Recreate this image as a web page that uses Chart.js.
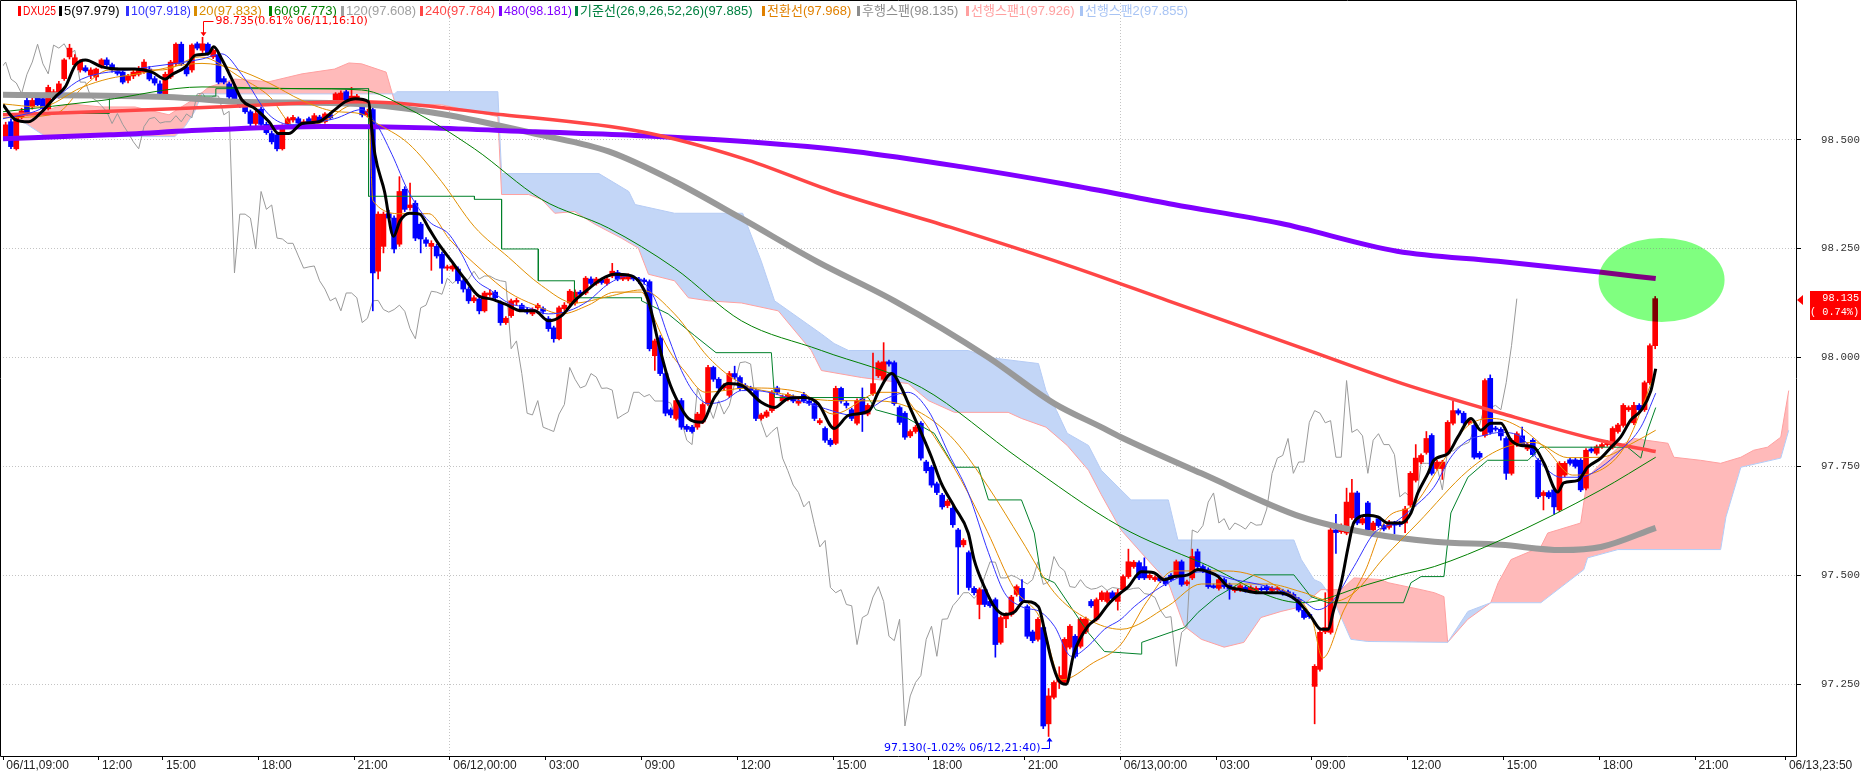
<!DOCTYPE html>
<html>
<head>
<meta charset="utf-8">
<script src="https://cdn.jsdelivr.net/npm/chart.js@4.4.1/dist/chart.umd.min.js"></script>
<style>
  html, body { margin: 0; padding: 0; background: #fff; }
  #wrap { width: 1863px; height: 774px; }
</style>
</head>
<body>
<div id="wrap"><canvas id="chart" width="1863" height="774"></canvas></div>
<script>
// x axis: bar index (10 minute bars), tick labels at these indices
const tickIndex = [0, 18, 30, 48, 66, 84, 102, 120, 138, 156, 174, 192, 210, 228, 246, 264, 282, 300, 318, 335];
const tickLabels = ['06/11,09:00', '12:00', '15:00', '18:00', '21:00', '06/12,00:00', '03:00', '09:00', '12:00', '15:00',
  '18:00', '21:00', '06/13,00:00', '03:00', '09:00', '12:00', '15:00', '18:00', '21:00', '06/13,23:50'];
const dayBreaks = [84, 210];
const yTicks = [97.25, 97.5, 97.75, 98.0, 98.25, 98.5];

// candles: [open, high, low, close]
const ohlc = [
  [98.507,98.540,98.500,98.534],[98.541,98.548,98.479,98.484],[98.479,98.560,98.476,98.557],[98.552,98.572,98.548,98.566],
  [98.590,98.596,98.556,98.560],[98.575,98.595,98.570,98.590],[98.595,98.600,98.578,98.580],[98.594,98.600,98.566,98.571],
  [98.571,98.625,98.568,98.620],[98.600,98.615,98.595,98.610],[98.600,98.634,98.595,98.628],[98.640,98.686,98.636,98.683],
  [98.690,98.719,98.685,98.710],[98.672,98.695,98.668,98.688],[98.660,98.684,98.655,98.680],[98.665,98.670,98.655,98.658],
  [98.648,98.665,98.640,98.660],[98.644,98.664,98.636,98.662],[98.668,98.686,98.664,98.683],[98.683,98.688,98.668,98.672],
  [98.672,98.676,98.655,98.660],[98.658,98.664,98.648,98.652],[98.655,98.660,98.628,98.632],[98.636,98.650,98.630,98.646],
  [98.646,98.660,98.640,98.655],[98.650,98.668,98.646,98.662],[98.655,98.684,98.652,98.678],[98.662,98.668,98.635,98.639],
  [98.640,98.645,98.625,98.630],[98.628,98.635,98.600,98.606],[98.603,98.655,98.598,98.650],[98.644,98.682,98.640,98.678],
  [98.674,98.722,98.670,98.719],[98.719,98.724,98.670,98.674],[98.667,98.672,98.646,98.651],[98.660,98.720,98.655,98.717],
  [98.720,98.724,98.706,98.710],[98.705,98.735,98.700,98.720],[98.719,98.722,98.694,98.697],[98.690,98.708,98.686,98.705],
  [98.694,98.698,98.628,98.632],[98.640,98.645,98.628,98.632],[98.628,98.632,98.594,98.598],[98.620,98.624,98.586,98.590],
  [98.590,98.594,98.574,98.578],[98.575,98.580,98.560,98.564],[98.564,98.568,98.532,98.537],[98.537,98.565,98.532,98.560],
  [98.570,98.575,98.530,98.535],[98.535,98.540,98.512,98.516],[98.514,98.520,98.490,98.495],[98.511,98.515,98.474,98.479],
  [98.479,98.534,98.476,98.530],[98.536,98.552,98.532,98.548],[98.545,98.556,98.540,98.551],[98.548,98.552,98.534,98.538],
  [98.535,98.546,98.530,98.541],[98.548,98.552,98.538,98.541],[98.541,98.560,98.538,98.555],[98.552,98.556,98.538,98.541],
  [98.541,98.562,98.538,98.559],[98.557,98.562,98.546,98.550],[98.587,98.608,98.582,98.605],[98.590,98.612,98.586,98.607],
  [98.610,98.614,98.583,98.587],[98.592,98.620,98.588,98.600],[98.587,98.604,98.582,98.600],[98.580,98.592,98.552,98.557],
  [98.557,98.570,98.552,98.565],[98.569,98.575,98.107,98.194],[98.198,98.334,98.180,98.329],[98.255,98.334,98.240,98.329],
  [98.330,98.338,98.312,98.320],[98.320,98.325,98.240,98.249],[98.260,98.415,98.255,98.381],[98.386,98.392,98.335,98.340],
  [98.344,98.400,98.338,98.350],[98.354,98.360,98.268,98.274],[98.306,98.310,98.240,98.272],[98.270,98.275,98.255,98.262],
  [98.255,98.268,98.200,98.262],[98.255,98.260,98.228,98.233],[98.237,98.242,98.170,98.205],[98.205,98.212,98.200,98.208],
  [98.203,98.214,98.198,98.210],[98.203,98.208,98.170,98.176],[98.176,98.180,98.150,98.157],[98.157,98.162,98.124,98.130],
  [98.130,98.142,98.126,98.137],[98.134,98.138,98.100,98.107],[98.107,98.152,98.104,98.148],[98.144,98.156,98.140,98.148],
  [98.150,98.154,98.132,98.137],[98.125,98.130,98.074,98.080],[98.080,98.094,98.076,98.090],[98.096,98.134,98.092,98.130],
  [98.127,98.136,98.120,98.131],[98.120,98.124,98.106,98.110],[98.110,98.114,98.100,98.104],[98.100,98.114,98.096,98.110],
  [98.114,98.124,98.110,98.120],[98.112,98.116,98.100,98.106],[98.089,98.094,98.060,98.066],[98.068,98.072,98.035,98.043],
  [98.043,98.118,98.040,98.114],[98.112,98.126,98.108,98.120],[98.125,98.156,98.120,98.152],[98.125,98.155,98.120,98.150],
  [98.150,98.154,98.140,98.145],[98.148,98.186,98.144,98.182],[98.180,98.185,98.166,98.170],[98.170,98.184,98.166,98.180],
  [98.178,98.182,98.168,98.172],[98.170,98.184,98.166,98.180],[98.187,98.216,98.183,98.198],[98.195,98.200,98.176,98.180],
  [98.180,98.190,98.176,98.187],[98.180,98.192,98.176,98.187],[98.184,98.188,98.176,98.180],[98.180,98.184,98.170,98.176],
  [98.178,98.182,98.168,98.174],[98.174,98.178,98.015,98.020],[98.004,98.042,97.970,98.038],[98.045,98.050,97.958,97.963],
  [97.963,97.968,97.866,97.872],[97.880,97.884,97.862,97.868],[97.860,97.906,97.856,97.901],[97.901,97.906,97.835,97.840],
  [97.842,97.846,97.830,97.835],[97.840,97.844,97.826,97.830],[97.840,97.874,97.835,97.870],[97.852,97.896,97.848,97.892],
  [97.894,97.982,97.890,97.977],[97.977,97.980,97.945,97.950],[97.950,97.954,97.925,97.930],[97.930,97.940,97.926,97.935],
  [97.913,97.968,97.908,97.963],[97.963,97.980,97.950,97.955],[97.954,97.958,97.924,97.929],[97.935,97.940,97.926,97.930],
  [97.930,97.934,97.920,97.925],[97.924,97.928,97.855,97.860],[97.860,97.872,97.856,97.868],[97.865,97.879,97.862,97.875],
  [97.878,97.924,97.874,97.920],[97.930,97.934,97.915,97.920],[97.900,97.914,97.896,97.910],[97.905,97.919,97.900,97.915],
  [97.910,97.914,97.896,97.900],[97.895,97.904,97.890,97.900],[97.915,97.920,97.896,97.900],[97.900,97.904,97.890,97.895],
  [97.894,97.898,97.855,97.860],[97.850,97.860,97.846,97.855],[97.837,97.841,97.805,97.810],[97.810,97.814,97.796,97.800],
  [97.803,97.934,97.800,97.929],[97.929,97.932,97.895,97.900],[97.895,97.900,97.884,97.890],[97.880,97.884,97.855,97.860],
  [97.849,97.905,97.845,97.901],[97.905,97.930,97.830,97.870],[97.870,97.894,97.866,97.890],[97.917,98.010,97.913,97.940],
  [97.958,97.992,97.954,97.988],[97.950,98.034,97.946,97.990],[97.990,97.994,97.980,97.985],[97.988,97.992,97.890,97.894],
  [97.885,97.889,97.846,97.851],[97.872,97.876,97.812,97.817],[97.820,97.834,97.816,97.830],[97.830,97.844,97.826,97.840],
  [97.849,97.853,97.764,97.769],[97.760,97.764,97.735,97.740],[97.748,97.752,97.702,97.707],[97.710,97.714,97.685,97.690],
  [97.684,97.688,97.652,97.657],[97.660,97.674,97.655,97.670],[97.654,97.658,97.610,97.616],[97.604,97.608,97.456,97.565],
  [97.570,97.584,97.565,97.580],[97.552,97.556,97.466,97.472],[97.470,97.474,97.455,97.460],[97.433,97.471,97.400,97.467],
  [97.467,97.471,97.428,97.433],[97.440,97.444,97.426,97.430],[97.444,97.448,97.312,97.341],[97.346,97.407,97.342,97.403],
  [97.400,97.414,97.380,97.410],[97.410,97.454,97.406,97.450],[97.456,97.478,97.452,97.474],[97.470,97.490,97.436,97.440],
  [97.428,97.432,97.355,97.360],[97.370,97.374,97.345,97.350],[97.353,97.403,97.349,97.399],[97.380,97.384,97.148,97.154],
  [97.159,97.240,97.130,97.223],[97.220,97.258,97.216,97.254],[97.255,97.290,97.240,97.270],[97.254,97.357,97.250,97.353],
  [97.335,97.387,97.331,97.383],[97.360,97.364,97.310,97.314],[97.337,97.403,97.333,97.399],[97.370,97.404,97.366,97.400],
  [97.440,97.444,97.426,97.430],[97.399,97.448,97.395,97.444],[97.444,97.464,97.440,97.460],[97.440,97.464,97.436,97.460],
  [97.460,97.464,97.443,97.447],[97.440,97.468,97.420,97.460],[97.467,97.501,97.463,97.497],[97.497,97.560,97.493,97.531],
  [97.520,97.534,97.516,97.530],[97.529,97.533,97.490,97.494],[97.520,97.540,97.490,97.494],[97.494,97.504,97.490,97.500],
  [97.490,97.499,97.486,97.495],[97.494,97.498,97.483,97.487],[97.490,97.494,97.476,97.480],[97.500,97.504,97.486,97.490],
  [97.497,97.535,97.493,97.531],[97.531,97.535,97.475,97.479],[97.480,97.489,97.476,97.485],[97.494,97.560,97.490,97.543],
  [97.554,97.560,97.516,97.520],[97.520,97.524,97.506,97.510],[97.513,97.517,97.470,97.474],[97.476,97.480,97.470,97.472],
  [97.470,97.494,97.466,97.490],[97.490,97.494,97.470,97.474],[97.478,97.482,97.445,97.468],[97.465,97.474,97.461,97.470],
  [97.467,97.480,97.463,97.476],[97.472,97.476,97.461,97.465],[97.465,97.476,97.461,97.472],[97.465,97.474,97.461,97.470],
  [97.470,97.474,97.464,97.467],[97.474,97.478,97.463,97.467],[97.465,97.474,97.461,97.470],[97.467,97.474,97.463,97.471],
  [97.464,97.468,97.454,97.458],[97.462,97.466,97.452,97.456],[97.456,97.460,97.445,97.449],[97.445,97.449,97.416,97.420],
  [97.420,97.424,97.399,97.403],[97.410,97.414,97.401,97.405],[97.245,97.295,97.159,97.291],[97.284,97.373,97.280,97.369],
  [97.370,97.460,97.366,97.380],[97.369,97.608,97.365,97.604],[97.604,97.640,97.550,97.598],[97.600,97.618,97.596,97.614],
  [97.597,97.700,97.593,97.668],[97.632,97.720,97.628,97.689],[97.689,97.693,97.616,97.620],[97.620,97.634,97.616,97.630],
  [97.666,97.670,97.600,97.604],[97.604,97.624,97.600,97.620],[97.630,97.634,97.610,97.614],[97.614,97.618,97.602,97.606],
  [97.610,97.626,97.606,97.622],[97.620,97.624,97.595,97.615],[97.620,97.624,97.612,97.616],[97.620,97.658,97.598,97.652],
  [97.661,97.738,97.657,97.734],[97.718,97.800,97.714,97.769],[97.760,97.779,97.756,97.775],[97.782,97.830,97.778,97.814],
  [97.821,97.825,97.730,97.734],[97.745,97.764,97.741,97.760],[97.745,97.764,97.720,97.760],[97.780,97.855,97.776,97.851],
  [97.849,97.900,97.845,97.878],[97.878,97.882,97.868,97.872],[97.872,97.876,97.846,97.850],[97.850,97.859,97.846,97.855],
  [97.844,97.848,97.767,97.771],[97.780,97.784,97.767,97.771],[97.821,97.951,97.817,97.947],[97.952,97.960,97.824,97.828],
  [97.838,97.842,97.831,97.835],[97.835,97.839,97.810,97.820],[97.814,97.818,97.720,97.734],[97.734,97.814,97.730,97.810],
  [97.800,97.829,97.796,97.825],[97.820,97.840,97.796,97.800],[97.790,97.804,97.786,97.800],[97.810,97.814,97.773,97.777],
  [97.764,97.768,97.676,97.680],[97.683,97.694,97.650,97.690],[97.690,97.694,97.676,97.680],[97.696,97.700,97.640,97.657],
  [97.650,97.761,97.646,97.757],[97.730,97.761,97.726,97.757],[97.765,97.769,97.753,97.757],[97.765,97.769,97.746,97.750],
  [97.764,97.768,97.692,97.696],[97.700,97.791,97.696,97.787],[97.790,97.794,97.781,97.785],[97.780,97.799,97.776,97.795],
  [97.795,97.804,97.791,97.800],[97.800,97.809,97.796,97.805],[97.794,97.841,97.790,97.837],[97.830,97.849,97.826,97.845],
  [97.844,97.894,97.840,97.890],[97.880,97.889,97.876,97.885],[97.850,97.897,97.846,97.890],[97.890,97.894,97.876,97.880],
  [97.880,97.946,97.876,97.942],[97.942,98.031,97.938,98.027],[98.027,98.140,98.020,98.135]
];

// moving averages and ichimoku lines: [bar position, value]
const ma5 = [[0,98.580],[2.3,98.546],[4.8,98.541],[7.3,98.564],[9.8,98.598],[11.7,98.621],[13.6,98.671],[15.5,98.683],[18.6,98.667],
  [21.8,98.662],[24.8,98.662],[28,98.655],[30.5,98.639],[31.7,98.649],[34.3,98.667],[36.2,98.694],[38.6,98.697],[39.6,98.713],
  [41.1,98.685],[43,98.639],[44.9,98.591],[47.4,98.571],[50,98.541],[51.8,98.514],[53.7,98.514],[56.2,98.537],[59.3,98.541],
  [62.4,98.569],[64.3,98.587],[66.2,98.594],[68.7,98.587],[69.3,98.525],[69.9,98.466],[71.7,98.381],[73.4,98.278],[74.6,98.313],
  [76.4,98.331],[78.3,98.329],[80,98.297],[81.9,98.260],[84.3,98.221],[86.8,98.180],[89.4,98.141],[91.8,98.134],[94.3,98.123],
  [97.5,98.107],[99.9,98.107],[102.5,98.084],[105,98.096],[107.4,98.130],[110,98.157],[112.5,98.180],[114.9,98.191],[117.6,98.189],
  [119.4,98.176],[121.3,98.130],[123.2,98.032],[125.1,97.947],[127,97.894],[128.8,97.860],[131.3,97.851],[133.7,97.908],
  [136.3,97.940],[138.8,97.936],[142.5,97.897],[145,97.885],[147.6,97.906],[150.6,97.908],[153.2,97.894],[156.2,97.837],
  [158.9,97.867],[162.8,97.878],[164.5,97.920],[167,97.963],[168.8,97.931],[170.7,97.878],[172.6,97.826],[174.5,97.771],
  [176.3,97.712],[178.8,97.657],[181.4,97.597],[182.5,97.536],[184.4,97.474],[186.3,97.428],[188.2,97.410],[190,97.415],
  [191.9,97.440],[194.6,97.428],[195.7,97.376],[197,97.307],[198.3,97.261],[199.8,97.250],[201.3,97.323],[203.9,97.383],
  [205.8,97.403],[207.7,97.433],[210.1,97.460],[211.5,97.474],[213.9,97.508],[216.3,97.506],[218.2,97.490],[220.1,97.497],
  [222.7,97.501],[224.6,97.513],[226.5,97.508],[228.4,97.497],[230.2,97.474],[232.7,97.467],[235.9,97.460],[239.6,97.460],
  [242.1,97.451],[243.9,97.433],[245.8,97.405],[247.7,97.376],[249,97.376],[250.1,97.421],[251.5,97.483],[252.8,97.565],
  [253.9,97.622],[256.5,97.638],[258.4,97.634],[260.3,97.620],[262.7,97.620],[264.6,97.643],[265.9,97.689],[267.8,97.734],
  [268.9,97.764],[271.6,97.780],[273.4,97.817],[275.9,97.860],[277.7,97.833],[279.6,97.849],[281.5,97.849],[283.4,97.810],
  [285.3,97.798],[287.7,97.794],[289.6,97.757],[292.2,97.691],[293.3,97.712],[296,97.718],[297.8,97.748],[300.3,97.769],
  [302.2,97.794],[304,97.817],[305.9,97.856],[307.8,97.878],[309.7,97.924],[310.6,97.974]];
const ma10 = [[0,98.548],[7,98.570],[14.8,98.639],[24.8,98.662],[37.4,98.685],[41.1,98.697],[44.9,98.649],[50,98.557],
  [54.3,98.534],[62.3,98.548],[67.4,98.569],[69.9,98.541],[73.1,98.466],[76.2,98.381],[80,98.313],[83.8,98.283],[86.2,98.237],
  [88.6,98.182],[91.8,98.153],[95,98.125],[98.8,98.114],[102.5,98.100],[106.3,98.107],[110,98.130],[113.8,98.169],[117.6,98.187],
  [120,98.176],[122.4,98.137],[125.1,98.045],[127.5,97.970],[130,97.917],[132.6,97.894],[135.6,97.901],[138.8,97.924],
  [141.2,97.924],[147.6,97.908],[153.8,97.885],[160,97.867],[166.4,97.908],[170.1,97.920],[173.9,97.878],[177.7,97.780],
  [181.4,97.689],[185.2,97.552],[188.2,97.460],[191.4,97.428],[195.1,97.415],[197.6,97.383],[200.8,97.314],[203.9,97.337],
  [207,97.376],[210.1,97.399],[212.6,97.428],[219,97.483],[225.2,97.508],[231.4,97.490],[237.7,97.474],[244,97.444],
  [247.1,97.421],[250.1,97.444],[253.9,97.520],[257.7,97.597],[261.4,97.620],[265.2,97.657],[268.9,97.702],[272.1,97.771],
  [275.3,97.810],[278.3,97.821],[281.5,97.828],[285.3,97.817],[289,97.757],[292.8,97.725],[296.5,97.725],[300.3,97.748],
  [304,97.787],[307.8,97.840],[310.6,97.918]];
const ma20 = [[0,98.582],[7,98.575],[14.8,98.620],[19.9,98.640],[24.8,98.650],[37.4,98.675],[43.6,98.662],[50,98.630],
  [56.2,98.590],[62.3,98.565],[67.4,98.559],[69.9,98.540],[76.2,98.491],[82.4,98.404],[88.6,98.300],[95,98.230],[101.2,98.165],
  [107.4,98.125],[113.8,98.140],[120,98.155],[126.2,98.100],[132.6,98.000],[138.8,97.940],[146.3,97.917],[156.2,97.901],
  [165,97.900],[172.6,97.872],[178.8,97.810],[185.2,97.702],[191.4,97.581],[197.6,97.460],[203.9,97.399],[210.1,97.376],
  [219,97.430],[225.2,97.480],[237.7,97.480],[244,97.462],[250.1,97.440],[253.9,97.460],[259.5,97.540],[265.9,97.620],
  [275.3,97.740],[281.5,97.790],[287.7,97.805],[294.1,97.770],[300.3,97.771],[306.5,97.805],[310.6,97.833]];
const ma60 = [[0,98.564],[18.6,98.590],[37.4,98.621],[56.2,98.617],[67.4,98.614],[76.2,98.571],[88.6,98.479],[101.2,98.363],
  [113.8,98.297],[126.2,98.205],[138.8,98.084],[153.8,98.016],[172.6,97.931],[191.4,97.764],[210.1,97.611],[225.2,97.529],
  [244,97.437],[256.5,97.479],[262.7,97.501],[269,97.520],[281.5,97.581],[300.3,97.696],[310.6,97.771]];
const ma120 = [[0,98.603],[31,98.598],[44,98.587],[67,98.582],[82.4,98.559],[101,98.511],[113.8,98.473],[126.2,98.404],
  [138.8,98.319],[153,98.220],[167.5,98.130],[185.2,98.000],[197.6,97.894],[206.4,97.840],[210.1,97.817],[225.2,97.734],
  [244,97.634],[256.5,97.597],[269,97.577],[281.5,97.570],[292.8,97.558],[300.3,97.565],[310.6,97.609]];
const ma240 = [[0,98.557],[20,98.565],[40,98.575],[67,98.587],[94,98.557],[120,98.518],[139,98.457],[156,98.381],[178,98.299],
  [200,98.212],[219,98.130],[244,98.022],[263,97.940],[281.5,97.872],[300,97.810],[310.6,97.784]];
const ma480 = [[0,98.502],[20,98.511],[40,98.523],[60,98.530],[80,98.527],[100,98.518],[120,98.509],[140,98.495],[160,98.473],
  [180,98.438],[200,98.397],[220,98.351],[240,98.308],[262,98.244],[281,98.221],[300,98.196],[310.6,98.181]];
const kijun = [[0,98.560],[20,98.560],[20,98.600],[40,98.600],[40,98.617],[68.7,98.617],[68.7,98.370],[88.6,98.370],[88.6,98.363],
  [93.7,98.363],[93.7,98.249],[100.6,98.249],[100.6,98.176],[107.4,98.176],[107.4,98.137],[120,98.137],[120,98.130],[125,98.100],
  [130,98.050],[134,98.011],[144.4,98.011],[145,97.908],[162.6,97.908],[164,97.880],[170,97.860],[175,97.826],[178.8,97.748],
  [183.3,97.748],[185.2,97.673],[191.4,97.673],[193.8,97.597],[195.1,97.497],[197.6,97.483],[203.9,97.369],[207,97.325],
  [213.9,97.319],[214,97.346],[222,97.380],[224.6,97.415],[228,97.450],[235.1,97.501],[242.6,97.501],[245.8,97.451],
  [249,97.437],[263.2,97.437],[264.6,97.483],[266.5,97.497],[270.8,97.497],[272.1,97.643],[275.3,97.725],[279,97.764],
  [286.6,97.764],[289,97.794],[305.3,97.794],[307.8,97.769],[309,97.830],[310.6,97.885]];
const tenkan = [[0,98.550],[10,98.560],[15,98.620],[20,98.660],[30,98.660],[37,98.690],[45,98.640],[50,98.600],[55,98.530],
  [60,98.540],[66,98.580],[68.7,98.580],[69.5,98.360],[75,98.330],[80,98.330],[84,98.270],[90,98.200],[95,98.150],[100,98.120],
  [105,98.100],[110,98.120],[115,98.150],[120,98.150],[122,98.100],[125,98.020],[128,97.970],[132,97.920],[140,97.930],
  [150,97.920],[156,97.870],[165,97.920],[168,97.920],[172,97.870],[176,97.800],[180,97.720],[185,97.600],[190,97.470],
  [195,97.400],[199,97.260],[205,97.300],[210,97.340],[215,97.440],[220,97.510],[230,97.510],[240,97.470],[246,97.400],
  [248,97.310],[252,97.420],[256,97.510],[260,97.630],[265,97.660],[270,97.750],[275,97.840],[280,97.860],[285,97.840],
  [290,97.790],[295,97.730],[300,97.740],[305,97.800],[310.6,97.968]];
const spanA = [[2,98.555],[3.6,98.553],[12.4,98.582],[18.6,98.575],[24.8,98.575],[31.2,98.557],[36,98.594],[38.7,98.621],
  [43.6,98.639],[50,98.633],[56.2,98.651],[62.3,98.662],[65,98.676],[67.4,98.674],[72,98.655],[73.6,98.587],[74,98.582],
  [82.4,98.580],[88.6,98.564],[93,98.553],[93.7,98.374],[98.8,98.374],[101.2,98.363],[103.7,98.331],[107.4,98.335],
  [111.2,98.306],[116.2,98.274],[119.4,98.251],[121.3,98.191],[126.2,98.176],[128.8,98.137],[132.6,98.130],[138.8,98.125],
  [145.7,98.107],[151.9,98.016],[153.8,97.970],[161.3,97.954],[170.1,97.940],[173.9,97.901],[178.8,97.874],[188.9,97.874],
  [191.4,97.860],[196,97.840],[200,97.798],[204,97.741],[206.4,97.685],[210.1,97.604],[213.9,97.552],[219,97.483],[222,97.383],
  [225.2,97.353],[229.5,97.335],[233.2,97.346],[236.4,97.403],[240.2,97.417],[244,97.428],[247.7,97.467],[251.5,97.467],
  [253.9,97.494],[259,97.490],[260.3,97.483],[266.5,97.467],[269,97.460],[270.8,97.451],[271.5,97.346],[275.3,97.399],
  [279.6,97.437],[281,97.483],[283.4,97.536],[289,97.565],[290.3,97.597],[296.5,97.620],[297.8,97.725],[300.3,97.757],
  [304,97.798],[306.5,97.814],[312.9,97.803],[314,97.771],[319,97.764],[322.8,97.757],[326.6,97.771],[329,97.787],
  [331.6,97.794],[334.1,97.817],[335.6,97.924]];
const spanB = [[2,98.555],[8,98.507],[32.3,98.507],[34.2,98.530],[36,98.564],[37.4,98.605],[73.6,98.605],[74,98.610],[93,98.610],
  [93.7,98.422],[112,98.422],[117.6,98.381],[118.8,98.351],[126.2,98.331],[139,98.331],[142.5,98.221],[145,98.130],
  [153.8,98.054],[156.2,98.032],[158.9,98.016],[181.4,98.016],[185.2,98.000],[194.6,97.986],[196,97.924],[198,97.878],
  [200,97.826],[204,97.798],[206.4,97.741],[210.1,97.696],[212,97.673],[219,97.673],[220.8,97.581],[242.6,97.581],
  [244,97.536],[246.4,97.490],[247.7,97.483],[250,97.444],[253.3,97.353],[256.5,97.348],[271.5,97.346],[275.3,97.417],
  [279.6,97.437],[289,97.437],[297.1,97.513],[297.8,97.540],[303.5,97.559],[322.8,97.559],[323.8,97.634],[326.6,97.748],
  [334.1,97.769],[335.6,97.833]];
const laggingShift = 26;

const legendLabels = ['DXU25', '5(97.979)', '10(97.918)', '20(97.833)', '60(97.773)', '120(97.608)', '240(97.784)', '480(98.181)',
  '기준선(26,9,26,52,26)(97.885)', '전환선(97.968)', '후행스팬(98.135)', '선행스팬1(97.926)', '선행스팬2(97.855)'];
const legendColors = ['#ff0000', '#000000', '#3333ff', '#d98c00', '#008000', '#a0a0a0', '#ff4646', '#8000ff',
  '#008040', '#e08000', '#8c8c8c', '#ffa0a0', '#a8c4f4'];
const legendX = [18, 59, 126, 194, 269, 341, 420, 499, 575, 762, 857, 966, 1080];
const legendEnd = 1188;

const highIndex = 37;
const highNote = '98.735(0.61% 06/11,16:10)';
const lowIndex = 196;
const lowValue = 97.130;
const lowNote = '97.130(-1.02% 06/12,21:40)';
const lastPrice = '98.135';
const lastChange = '( 0.74%)';
const focusPoint = [311.7, 98.178];

// where the outer y ticks sit on the canvas (px) and the bar pitch (px)
const Y_TOP_TICK = 138;
const Y_BOTTOM_TICK = 684;
const BAR_PITCH = 5.327;

const pts = (arr) => arr.map(([x, y]) => ({ x, y }));
const UP = '#ff0000';
const DOWN = '#0000ff';
const candleColors = ohlc.map((c) => (c[3] >= c[0] ? UP : DOWN));

function lineSet(label, data, color, width, order, extra) {
  return Object.assign({
    type: 'line',
    label,
    data: pts(data),
    borderColor: color,
    backgroundColor: color,
    borderWidth: width,
    pointRadius: 0,
    fill: false,
    tension: 0,
    order,
  }, extra || {});
}

const smooth = { cubicInterpolationMode: 'monotone' };

const datasets = [
  lineSet('선행스팬1', spanA, '#ffa0a0', 1, 30, { fill: { target: 1, above: '#ffbaba', below: '#c3d6f7' } }),
  lineSet('선행스팬2', spanB, '#b4ccf6', 1, 29),
  {
    type: 'line',
    label: '후행스팬',
    data: ohlc.map((c, i) => ({ x: i - laggingShift + 0.5, y: c[3] })),
    borderColor: '#9a9a9a',
    borderWidth: 1,
    pointRadius: 0,
    fill: false,
    order: 28,
  },
  {
    type: 'bar',
    label: 'wick',
    data: ohlc.map((c, i) => ({ x: i + 0.5, y: [c[2], c[1]] })),
    backgroundColor: candleColors,
    barThickness: 1,
    grouped: false,
    order: 21,
  },
  {
    type: 'bar',
    label: 'DXU25',
    data: ohlc.map((c, i) => ({ x: i + 0.5, y: [Math.min(c[0], c[3]), Math.max(c[0], c[3])] })),
    backgroundColor: candleColors,
    barThickness: 5,
    minBarLength: 1,
    grouped: false,
    order: 20,
  },
  lineSet('기준선', kijun, '#00802a', 1, 12),
  lineSet('전환선', tenkan, '#e68a00', 1, 11, smooth),
  lineSet('120', ma120, '#999999', 6, 10, smooth),
  lineSet('480', ma480, '#8000ff', 5, 9, smooth),
  lineSet('240', ma240, '#ff4646', 3.5, 8, smooth),
  lineSet('60', ma60, '#008000', 1, 7, smooth),
  lineSet('20', ma20, '#e09000', 1, 6, smooth),
  lineSet('10', ma10, '#3333ff', 1, 5, smooth),
  lineSet('5', ma5, '#000000', 3, 1, smooth),
];

const overlay = {
  id: 'overlay',
  afterDatasetsDraw(chart) {
    const { ctx, scales: { x, y } } = chart;
    const cx = x.getPixelForValue(focusPoint[0]);
    const cy = y.getPixelForValue(focusPoint[1]);
    ctx.save();
    ctx.globalCompositeOperation = 'darken';
    ctx.fillStyle = '#80ff80';
    ctx.beginPath();
    ctx.ellipse(cx, cy, 63, 42, 0, 0, Math.PI * 2);
    ctx.fill();
    ctx.restore();
  },
  afterDraw(chart) {
    const { ctx, chartArea: a, scales: { x, y } } = chart;
    ctx.save();

    // frame
    ctx.strokeStyle = '#000';
    ctx.lineWidth = 1;
    ctx.beginPath();
    ctx.moveTo(0.5, a.bottom + 0.5);
    ctx.lineTo(0.5, 0.5);
    ctx.lineTo(a.right + 0.5, 0.5);
    ctx.lineTo(a.right + 0.5, a.bottom + 0.5);
    ctx.lineTo(0.5, a.bottom + 0.5);
    ctx.stroke();

    // legend, each entry squeezed into its slot
    ctx.font = "13px 'Liberation Sans', 'Noto Sans CJK KR'";
    ctx.textBaseline = 'middle';
    ctx.textAlign = 'left';
    legendLabels.forEach((text, i) => {
      const left = legendX[i] + 5;
      const right = (i + 1 < legendX.length ? legendX[i + 1] - 3 : legendEnd);
      ctx.fillStyle = legendColors[i];
      ctx.fillRect(legendX[i], 6, 3, 10);
      ctx.fillText(text, left, 11, right - left);
    });

    // high note
    ctx.font = "11px 'DejaVu Sans'";
    const hx = Math.round(x.getPixelForValue(highIndex + 0.5)) + 0.5;
    const hy = y.getPixelForValue(ohlc[highIndex][1]);
    ctx.strokeStyle = ctx.fillStyle = '#ff0000';
    ctx.beginPath();
    ctx.moveTo(hx + 10, 21.5);
    ctx.lineTo(hx, 21.5);
    ctx.lineTo(hx, hy - 4);
    ctx.stroke();
    ctx.beginPath();
    ctx.moveTo(hx - 3, hy - 5);
    ctx.lineTo(hx + 3, hy - 5);
    ctx.lineTo(hx, hy - 1);
    ctx.closePath();
    ctx.fill();
    ctx.fillText(highNote, hx + 12, 21);

    // low note
    const lx = Math.round(x.getPixelForValue(lowIndex + 0.5)) + 0.5;
    const ly = y.getPixelForValue(lowValue);
    ctx.strokeStyle = ctx.fillStyle = '#0000ff';
    ctx.beginPath();
    ctx.moveTo(lx, ly + 4);
    ctx.lineTo(lx, 748.5);
    ctx.lineTo(lx - 8, 748.5);
    ctx.stroke();
    ctx.beginPath();
    ctx.moveTo(lx - 3, ly + 5);
    ctx.lineTo(lx + 3, ly + 5);
    ctx.lineTo(lx, ly + 1);
    ctx.closePath();
    ctx.fill();
    ctx.textAlign = 'right';
    ctx.fillText(lowNote, lx - 9, 748);

    // last price box
    const py = Math.round(y.getPixelForValue(ohlc[ohlc.length - 1][3]));
    ctx.fillStyle = '#ff0000';
    ctx.beginPath();
    ctx.moveTo(a.right + 1, py + 1);
    ctx.lineTo(a.right + 7, py - 4);
    ctx.lineTo(a.right + 7, py + 6);
    ctx.closePath();
    ctx.fill();
    ctx.fillRect(1810, py - 8, 51, 29);
    ctx.fillStyle = '#ffffff';
    ctx.font = "10.2px 'Liberation Mono'";
    ctx.textAlign = 'right';
    ctx.fillText(lastPrice, 1859, py - 1);
    ctx.fillText(lastChange, 1859, py + 13);
    ctx.restore();
  },
};

const chart = new Chart(document.getElementById('chart'), {
  type: 'bar',
  data: { datasets },
  options: {
    responsive: false,
    animation: false,
    events: [],
    layout: { padding: { top: 1, left: 1, right: 0, bottom: 0 } },
    plugins: {
      legend: { display: false },
      tooltip: { enabled: false },
      filler: { propagate: false, drawTime: 'beforeDatasetsDraw' },
    },
    scales: {
      x: {
        type: 'linear',
        min: 0,
        max: 336.9,
        offset: false,
        afterBuildTicks: (s) => { s.ticks = tickIndex.map((v) => ({ value: v })); },
        afterFit: (s) => { s.height = 18; s.paddingLeft = 0; s.paddingRight = 0; },
        ticks: {
          autoSkip: false,
          maxRotation: 0,
          align: 'start',
          padding: -2,
          color: '#222',
          font: { family: 'Liberation Sans', size: 12 },
          callback: (v, i) => ' ' + tickLabels[i],
        },
        grid: {
          offset: false,
          color: (c) => (c.tick && dayBreaks.includes(c.tick.value) ? '#c4c4c4' : 'rgba(0,0,0,0)'),
          tickColor: '#000',
          tickLength: 4,
        },
        border: { display: false, dash: [1, 2] },
      },
      y: {
        type: 'linear',
        position: 'right',
        min: 97.088,
        max: 98.813,
        afterBuildTicks: (s) => { s.ticks = yTicks.map((v) => ({ value: v })); },
        afterFit: (s) => { s.width = 67; s.paddingTop = 0; s.paddingBottom = 0; },
        ticks: {
          padding: 20,
          color: '#333',
          font: { family: 'Liberation Mono', size: 10.8 },
          callback: (v) => v.toFixed(3),
        },
        grid: { color: '#c4c4c4', tickColor: '#000', tickLength: 5 },
        border: { display: false, dash: [1, 2] },
      },
    },
  },
  plugins: [overlay],
});

// pin the value ranges to the pixel grid of the reference once the layout is known
const area = chart.chartArea;
const pxPerValue = (Y_BOTTOM_TICK - Y_TOP_TICK) / (yTicks[yTicks.length - 1] - yTicks[0]);
chart.options.scales.y.max = yTicks[yTicks.length - 1] + (Y_TOP_TICK - area.top) / pxPerValue;
chart.options.scales.y.min = yTicks[0] - (area.bottom - Y_BOTTOM_TICK) / pxPerValue;
chart.options.scales.x.min = -(area.left - 1) / BAR_PITCH;
chart.options.scales.x.max = chart.options.scales.x.min + (area.right - area.left) / BAR_PITCH;
chart.update('none');
</script>
</body>
</html>
